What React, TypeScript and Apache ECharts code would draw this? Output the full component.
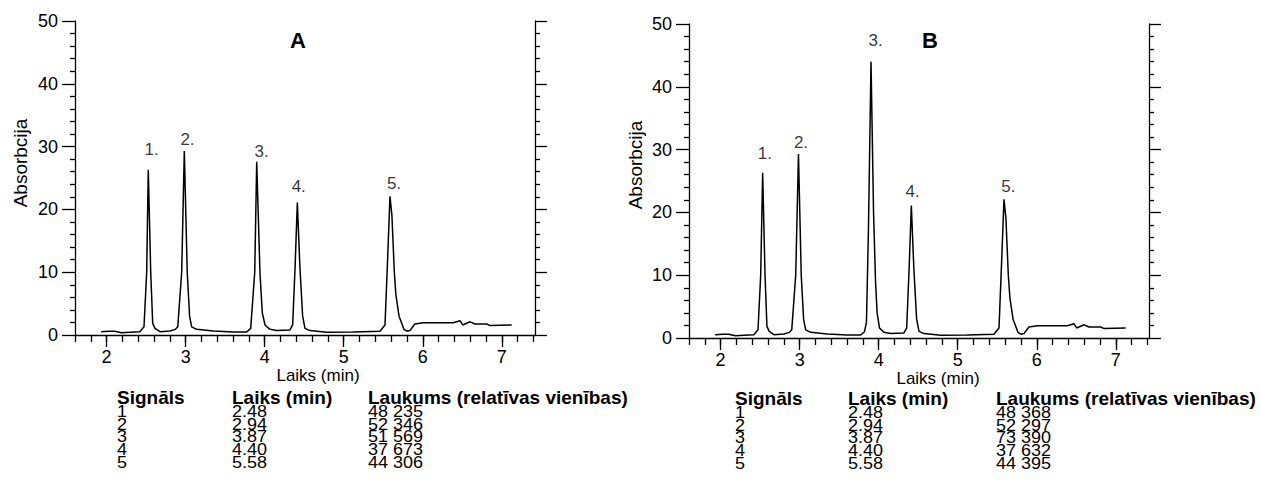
import React, { useEffect, useRef } from "react";
import * as echarts from "echarts";

const FONT = '"Liberation Sans", Arial, sans-serif';

const X_MIN = 1.6;
const X_MAX = 7.42;
const Y_MIN = 0;
const Y_MAX = 50;

const majorX = [2, 3, 4, 5, 6, 7];
const minorX = [1.6, 1.8, 2.0, 2.2, 2.4, 2.6, 2.8, 3.0, 3.2, 3.4, 3.6, 3.8, 4.0, 4.2, 4.4, 4.6, 4.8, 5.0, 5.2, 5.4, 5.6, 5.8, 6.0, 6.2, 6.4, 6.6, 6.8, 7.0, 7.2, 7.4];
const majorY = [0, 10, 20, 30, 40, 50];
const minorY = [2, 4, 6, 8, 12, 14, 16, 18, 22, 24, 26, 28, 32, 34, 36, 38, 42, 44, 46, 48];

const traceA: [number, number][] = [
  [1.93, 0.53], [2.03, 0.6], [2.1, 0.6], [2.19, 0.37], [2.3, 0.45], [2.42, 0.53],
  [2.473, 1.3], [2.507, 10], [2.527, 26.3], [2.558, 10], [2.583, 1.86], [2.612, 1.06],
  [2.675, 0.53], [2.8, 0.64], [2.87, 0.9], [2.9, 1.3], [2.95, 10], [2.983, 29.3],
  [3.02, 10], [3.05, 3], [3.076, 1.3], [3.14, 0.9], [3.35, 0.64], [3.603, 0.48],
  [3.772, 0.48], [3.823, 1.06], [3.874, 10], [3.899, 27.6], [3.94, 10], [3.97, 3.5],
  [4.004, 1.6], [4.067, 0.9], [4.152, 0.7], [4.32, 0.8], [4.354, 1.6], [4.385, 11],
  [4.413, 21.1], [4.445, 11], [4.48, 3], [4.51, 1.06], [4.573, 0.7], [4.785, 0.42],
  [5.12, 0.47], [5.459, 0.6], [5.522, 1.6], [5.555, 12], [5.585, 22.1], [5.61, 19],
  [5.64, 10], [5.66, 6.4], [5.7, 3], [5.762, 0.9], [5.8, 0.6], [5.838, 0.7],
  [5.9, 1.75], [6.007, 1.96], [6.386, 1.96], [6.471, 2.28], [6.505, 1.6], [6.598, 2.1],
  [6.66, 1.75], [6.81, 1.75], [6.85, 1.5], [7.125, 1.6],
];

const traceB: [number, number][] = [
  [1.93, 0.53], [2.03, 0.6], [2.1, 0.6], [2.19, 0.37], [2.3, 0.45], [2.42, 0.53],
  [2.473, 1.3], [2.507, 10], [2.532, 26.3], [2.562, 10], [2.586, 1.86], [2.615, 1.06],
  [2.675, 0.53], [2.8, 0.64], [2.87, 0.9], [2.9, 1.3], [2.95, 10], [2.985, 29.3],
  [3.02, 10], [3.05, 3], [3.076, 1.3], [3.14, 0.9], [3.35, 0.64], [3.603, 0.48],
  [3.772, 0.48], [3.82, 1.0], [3.845, 2.5], [3.87, 17], [3.903, 44.0], [3.935, 20],
  [3.96, 9], [3.98, 4], [4.01, 1.6], [4.067, 0.9], [4.152, 0.7], [4.32, 0.8],
  [4.354, 1.6], [4.385, 11], [4.413, 21.1], [4.445, 11], [4.48, 3], [4.51, 1.06],
  [4.573, 0.7], [4.785, 0.42], [5.12, 0.47], [5.459, 0.6], [5.522, 1.6], [5.555, 12],
  [5.585, 22.1], [5.61, 19], [5.64, 10], [5.66, 6.4], [5.7, 3], [5.762, 0.9],
  [5.8, 0.6], [5.838, 0.7], [5.9, 1.75], [6.007, 1.96], [6.386, 1.96], [6.471, 2.28],
  [6.505, 1.6], [6.598, 2.1], [6.66, 1.75], [6.81, 1.75], [6.85, 1.5], [7.125, 1.6],
];

const peakLabels = ["1.", "2.", "3.", "4.", "5."];
const labelPosA: [number, number][] = [[2.57, 29.5], [3.023, 31.1], [3.962, 29.2], [4.431, 23.6], [5.636, 24.2]];
const labelPosB: [number, number][] = [[2.56, 29.3], [3.017, 31.1], [3.96, 47.3], [4.428, 23.4], [5.64, 24.1]];

const tableHeaders = ["Signāls", "Laiks (min)", "Laukums (relatīvas vienības)"];
const signals = ["1", "2", "3", "4", "5"];
const times = ["2.48", "2.94", "3.87", "4.40", "5.58"];
const areasA = ["48 235", "52 346", "51 569", "37 673", "44 306"];
const areasB = ["48 368", "52 297", "73 390", "37 632", "44 395"];

const BLACK = "#000";

function axesFor(gridIndex: number) {
  const lineStyle = { color: BLACK, width: 1.3 };
  const xAxes = [
    {
      type: "value", gridIndex, position: "bottom", min: X_MIN, max: X_MAX,
      axisLine: { show: true, onZero: false, lineStyle },
      axisTick: { show: true, customValues: majorX, length: 12, lineStyle },
      axisLabel: { show: true, customValues: majorX, color: BLACK, fontSize: 18, fontFamily: FONT, margin: 13 },
      splitLine: { show: false },
    },
    {
      type: "value", gridIndex, position: "bottom", min: X_MIN, max: X_MAX,
      axisLine: { show: false },
      axisTick: { show: true, customValues: minorX, length: 7, lineStyle },
      axisLabel: { show: false },
      splitLine: { show: false },
    },
  ];
  const yAxes = [
    {
      type: "value", gridIndex, position: "left", min: Y_MIN, max: Y_MAX,
      axisLine: { show: true, onZero: false, lineStyle },
      axisTick: { show: true, customValues: majorY, length: 13, lineStyle },
      axisLabel: { show: true, customValues: majorY, color: BLACK, fontSize: 18, fontFamily: FONT, margin: 17 },
      splitLine: { show: false },
    },
    {
      type: "value", gridIndex, position: "left", min: Y_MIN, max: Y_MAX,
      axisLine: { show: false },
      axisTick: { show: true, customValues: minorY, length: 5, lineStyle },
      axisLabel: { show: false },
      splitLine: { show: false },
    },
    {
      type: "value", gridIndex, position: "right", min: Y_MIN, max: Y_MAX,
      axisLine: { show: true, onZero: false, lineStyle },
      axisTick: { show: true, customValues: majorY, length: 12, lineStyle },
      axisLabel: { show: false },
      splitLine: { show: false },
    },
    {
      type: "value", gridIndex, position: "right", min: Y_MIN, max: Y_MAX,
      axisLine: { show: false },
      axisTick: { show: true, customValues: minorY, length: 5, lineStyle },
      axisLabel: { show: false },
      splitLine: { show: false },
    },
  ];
  return { xAxes, yAxes };
}

function seriesFor(gridIndex: number, trace: [number, number][], labelPos: [number, number][]) {
  return [
    {
      type: "line",
      xAxisIndex: gridIndex * 2,
      yAxisIndex: gridIndex * 4,
      data: trace,
      showSymbol: false,
      symbol: "none",
      lineStyle: { color: BLACK, width: 1.5 },
      silent: true,
    },
    {
      type: "scatter",
      xAxisIndex: gridIndex * 2,
      yAxisIndex: gridIndex * 4,
      symbolSize: 1,
      itemStyle: { color: "rgba(0,0,0,0)" },
      silent: true,
      data: labelPos.map((p, i) => ({ value: p, name: peakLabels[i] })),
      label: {
        show: true,
        position: "inside",
        formatter: "{b}",
        color: BLACK,
        fontSize: 17,
        fontFamily: FONT,
      },
    },
  ];
}

function txt(text: string, x: number, y: number, opts: any = {}) {
  const align = opts.align || "left";
  const vAlign = opts.vAlign || "middle";
  return {
    type: "text",
    x,
    y,
    rotation: opts.rotation || 0,
    scaleX: opts.scaleX || 1,
    scaleY: opts.scaleY || 1,
    silent: true,
    style: {
      text,
      fill: BLACK,
      fontSize: opts.fontSize || 17,
      fontWeight: opts.bold ? "bold" : "normal",
      fontFamily: FONT,
      lineHeight: opts.lineHeight,
      align,
      verticalAlign: vAlign,
      textAlign: align,
      textVerticalAlign: vAlign,
    },
  };
}

const ROW_STEP = 12.6;
const ROW_SCALE_Y = 0.92;

function tableFor(cols: number[], headerY: number, firstRowY: number, areas: string[]) {
  const colData = [signals, times, areas];
  const els: any[] = [];
  cols.forEach((cx, i) => {
    els.push(txt(tableHeaders[i], cx, headerY, { bold: true, fontSize: 19 }));
    els.push(
      txt(colData[i].join("\n"), cx, firstRowY - ROW_STEP / 2, {
        fontSize: 18,
        lineHeight: ROW_STEP / ROW_SCALE_Y,
        scaleY: ROW_SCALE_Y,
        vAlign: "top",
      })
    );
  });
  return els;
}

export default function App() {
  const ref = useRef<HTMLDivElement>(null);
  useEffect(() => {
    if (!ref.current) return;
    const chart = echarts.init(ref.current, undefined, { renderer: "svg" });
    const a = axesFor(0);
    const b = axesFor(1);
    chart.setOption({
      animation: false,
      backgroundColor: "#fff",
      grid: [
        { left: 75, top: 21, width: 460, height: 314, containLabel: false },
        { left: 689, top: 24, width: 460, height: 314, containLabel: false },
      ],
      xAxis: [...a.xAxes, ...b.xAxes],
      yAxis: [...a.yAxes, ...b.yAxes],
      series: [...seriesFor(0, traceA, labelPosA), ...seriesFor(1, traceB, labelPosB)],
      graphic: [
        txt("A", 298, 40, { bold: true, fontSize: 22, align: "center" }),
        txt("B", 930, 40, { bold: true, fontSize: 22, align: "center" }),
        txt("Absorbcija", 20, 163, { fontSize: 19, align: "center", rotation: Math.PI / 2 }),
        txt("Absorbcija", 635, 165, { fontSize: 19, align: "center", rotation: Math.PI / 2 }),
        txt("Laiks (min)", 318, 375.5, { fontSize: 17, align: "center" }),
        txt("Laiks (min)", 938, 378.5, { fontSize: 17, align: "center" }),
        ...tableFor([117, 232, 368], 397, 411.5, areasA),
        ...tableFor([735, 848, 996], 398, 412.5, areasB),
      ],
    });
    return () => chart.dispose();
  }, []);
  return (
    <div
      ref={ref}
      style={{ position: "fixed", left: 0, top: 0, width: 1261, height: 493, background: "#fff" }}
    />
  );
}
